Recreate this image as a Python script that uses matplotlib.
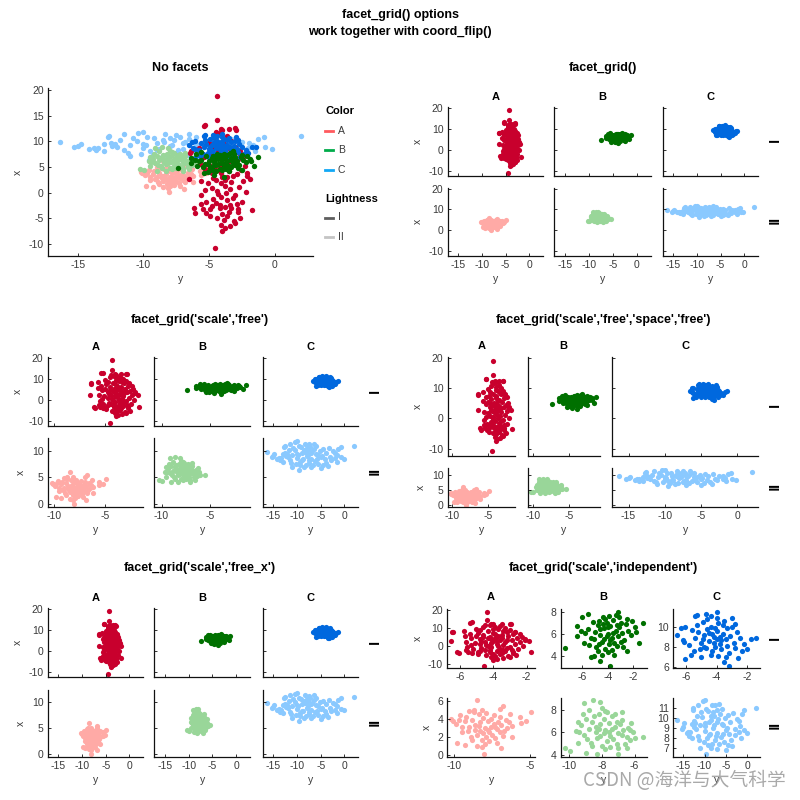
import matplotlib
matplotlib.use("Agg")
import matplotlib.pyplot as plt
from matplotlib.lines import Line2D

plt.rcParams['font.family'] = ['Liberation Sans', 'DejaVu Sans']
plt.rcParams['axes.unicode_minus'] = False

colors = ['A', 'B', 'C']
lightness = ['I', 'II']

# each point: (y value -> horizontal axis after coord_flip, x value -> vertical axis)
pts_A_I = [
    (-4.39, 18.9), (-4.39, 14.2), (-5.28, 13.1), (-3.99, 12.1), (-3.0, 12.5), (-2.93, 12.2), (-6.4, 8.0),
    (-2.68, 8.0), (-2.3, 5.1), (-2.12, 3.2), (-1.87, 2.6), (-2.2, 0.1), (-5.58, -0.5), (-5.63, -2.2),
    (-5.5, -3.3), (-6.06, -4.0), (-5.25, -4.0), (-4.9, -4.5), (-2.63, -5.0), (-2.83, -3.2), (-1.74, -3.4),
    (-3.99, -7.6), (-4.57, -10.9), (-4.8, -2.6), (-6.44, 7.8), (-6.5, 2.6), (-6.14, -3.1), (-5.4, 12.9),
    (-5.74, 8.6), (-4.1, 12.4), (-3.5, 12.4), (-2.7, 7.8), (-2.4, 6.9), (-2.1, 3.8),
    (-4.0, 3.0), (-4.2, 5.1), (-3.8, 1.2), (-4.5, 2.4), (-3.5, 4.2), (-4.1, -0.8), (-4.6, 6.3), (-3.3, 2.0),
    (-4.3, 8.1), (-3.9, 6.8), (-4.8, 3.9), (-3.6, -1.5), (-5.1, 1.8), (-3.1, 5.5), (-4.4, 0.3), (-3.7, 9.2),
    (-4.9, 7.5), (-3.4, -2.4), (-4.2, -3.1), (-5.3, 4.6), (-2.9, 3.6), (-3.2, 7.9), (-4.7, -1.2), (-3.9, 10.3),
    (-5.0, 9.6), (-2.7, 1.0), (-4.0, -4.2), (-3.5, -3.8), (-4.6, 10.8), (-3.3, 10.0), (-5.4, 6.9), (-3.0, -0.4),
    (-4.3, 4.4), (-3.6, 3.1), (-4.8, 0.9), (-3.8, -2.8), (-5.2, -1.9), (-2.8, 6.6), (-4.1, 1.9), (-3.4, 0.6),
    (-4.5, -2.0), (-3.7, 5.8), (-4.0, 7.4), (-5.0, 5.3), (-2.6, 4.4), (-3.2, -1.0), (-4.7, 2.9), (-3.9, -5.3),
    (-3.6, -4.6), (-4.4, -5.0), (-3.1, -5.6), (-4.2, 11.6), (-3.6, 11.0), (-5.6, 2.2), (-2.5, -1.8), (-4.9, -3.3),
    (-3.0, 8.9), (-4.0, 9.5), (-3.3, -3.0), (-4.6, 4.8), (-3.8, 2.5), (-4.3, -0.2), (-3.5, 6.1), (-2.9, -2.2),
    (-5.3, 0.4), (-4.1, 3.8), (-3.7, 0.0), (-4.8, 8.7), (-3.2, 3.3), (-2.4, 2.3), (-5.7, 5.6), (-4.5, 11.9),
    (-3.4, 8.4), (-4.2, -2.5), (-3.9, 4.7), (-2.8, -3.9), (-3.0, -6.0), (-4.1, -6.3), (-3.4, -6.6), (-3.8, -7.0),
]
pts_B_I = [
    (-7.4, 4.7), (-1.26, 7.0), (-3.87, 3.1), (-4.6, 3.5), (-5.36, 3.9), (-5.6, 7.85), (-6.0, 7.5), (-6.4, 6.7),
    (-6.4, 5.8), (-1.56, 5.2), (-3.2, 8.0), (-5.9, 5.2), (-1.9, 6.6), (-2.1, 7.2), (-2.5, 4.4), (-5.1, 4.0),
    (-4.0, 6.0), (-4.3, 6.5), (-3.7, 5.6), (-4.6, 5.9), (-3.4, 6.3), (-4.1, 7.0), (-3.9, 5.1), (-4.8, 6.8),
    (-3.2, 5.8), (-4.5, 5.3), (-3.6, 7.3), (-5.0, 6.2), (-2.9, 6.1), (-4.2, 4.6), (-3.8, 6.7), (-5.3, 5.6),
    (-2.7, 5.4), (-4.4, 7.5), (-3.3, 4.9), (-4.9, 4.8), (-3.0, 7.0), (-5.6, 6.4), (-2.4, 6.3), (-4.7, 7.2),
    (-3.5, 5.2), (-4.0, 4.3), (-3.1, 6.6), (-5.2, 7.1), (-2.6, 6.9), (-4.3, 5.5), (-3.7, 4.5), (-4.6, 6.4),
    (-3.9, 7.6), (-5.5, 5.0), (-2.2, 5.9), (-4.1, 5.8), (-3.4, 7.7), (-4.8, 4.4), (-2.8, 4.8), (-3.6, 6.1),
    (-4.4, 6.9), (-5.8, 6.1), (-3.0, 5.3), (-4.2, 7.4), (-3.8, 5.4), (-2.5, 7.4), (-5.1, 5.5), (-3.3, 6.8),
    (-4.7, 5.1), (-4.0, 6.6), (-3.5, 4.1), (-1.8, 6.2), (-6.1, 6.3), (-4.5, 4.1), (-3.1, 7.5),
]
pts_C_I = [
    (-6.57, 9.2), (-6.04, 10.0), (-6.04, 6.8), (-5.4, 11.1), (-5.3, 11.2), (-4.7, 11.3), (-4.4, 11.1),
    (-3.5, 6.5), (-3.17, 6.1), (-2.64, 6.9), (-2.36, 7.6), (-2.0, 7.75), (-2.98, 10.9), (-6.2, 8.7),
    (-6.1, 8.5), (-1.75, 8.8), (-1.43, 8.9), (-4.0, 11.5), (-2.8, 10.3), (-5.7, 7.2), (-5.0, 7.0),
    (-4.2, 9.0), (-4.0, 9.6), (-4.5, 8.6), (-3.8, 8.3), (-4.4, 10.0), (-3.6, 9.3), (-4.8, 9.2), (-4.1, 8.0),
    (-3.9, 10.4), (-5.0, 8.4), (-3.4, 8.8), (-4.6, 9.8), (-3.3, 9.9), (-5.2, 9.5), (-4.3, 7.6), (-3.7, 7.8),
    (-4.9, 10.5), (-3.1, 9.1), (-4.0, 10.9), (-5.4, 8.9), (-3.5, 10.6), (-4.7, 7.9), (-2.9, 8.4), (-4.2, 8.4),
    (-3.8, 9.0), (-5.1, 7.8), (-4.5, 9.4), (-3.2, 7.4), (-4.1, 9.9), (-5.6, 9.7), (-2.7, 9.5), (-4.8, 8.0),
    (-3.6, 10.2), (-4.4, 7.2), (-3.0, 10.0), (-5.3, 10.2), (-3.9, 7.1), (-4.6, 10.8), (-2.5, 8.9), (-5.8, 8.2),
    (-3.4, 7.0), (-4.3, 9.3), (-3.7, 8.7), (-4.9, 8.8), (-2.8, 7.9), (-5.5, 7.6), (-4.0, 8.8), (-3.3, 8.1),
    (-2.2, 8.3), (-6.3, 9.9),
]
pts_A_II = [
    (-10.2, 4.0), (-10.1, 3.8), (-9.8, 1.3), (-9.3, 1.1), (-8.5, 6.05), (-8.7, 5.0), (-8.04, 0.07), (-8.16, 0.8),
    (-6.9, 0.7), (-6.76, 5.4), (-6.95, 5.1), (-5.67, 4.2), (-5.6, 3.5), (-5.27, 3.75), (-4.93, 4.7), (-6.2, 2.0),
    (-6.3, 4.5), (-9.9, 3.4), (-9.5, 2.5), (-9.6, 4.4),
    (-8.0, 3.0), (-8.3, 3.6), (-7.7, 2.5), (-8.6, 2.8), (-7.4, 3.4), (-8.1, 4.1), (-7.9, 2.0), (-8.8, 3.9),
    (-7.2, 2.9), (-8.5, 2.2), (-7.6, 4.0), (-9.0, 3.1), (-6.9, 3.3), (-8.2, 1.6), (-7.8, 3.8), (-9.3, 3.7),
    (-6.7, 2.6), (-8.4, 4.5), (-7.3, 1.9), (-8.9, 2.0), (-7.0, 4.2), (-9.1, 2.6), (-6.5, 3.0), (-8.7, 4.7),
    (-7.5, 2.2), (-8.0, 1.2), (-7.1, 3.6), (-9.2, 4.2), (-6.6, 3.9), (-8.3, 2.6), (-7.7, 1.5), (-8.6, 3.3),
    (-7.9, 4.6), (-9.5, 3.1), (-6.2, 3.2), (-8.1, 2.4), (-7.4, 4.4), (-8.8, 1.6), (-6.8, 2.1), (-7.6, 3.1),
    (-8.4, 3.2), (-9.7, 3.9), (-7.2, 1.3), (-8.2, 5.0), (-7.0, 2.5), (-8.5, 1.0), (-6.4, 3.6), (-7.8, 2.8),
    (-9.0, 4.9), (-7.3, 3.1),
]
pts_B_II = [
    (-10.3, 4.6), (-9.94, 4.4), (-8.56, 8.8), (-8.1, 8.7), (-9.14, 8.6), (-7.8, 7.9), (-7.0, 4.1), (-9.0, 4.2),
    (-5.5, 5.55), (-6.0, 5.5), (-6.3, 6.2), (-9.5, 5.1), (-9.6, 6.1), (-6.8, 7.8), (-9.2, 7.6), (-6.5, 4.6),
    (-8.3, 4.1),
    (-7.8, 6.2), (-8.1, 6.7), (-7.5, 5.7), (-8.4, 6.0), (-7.2, 6.5), (-7.9, 7.2), (-7.7, 5.2), (-8.6, 6.9),
    (-7.0, 5.9), (-8.3, 5.5), (-7.4, 7.4), (-8.8, 6.3), (-6.7, 6.2), (-8.0, 4.8), (-7.6, 6.8), (-9.1, 5.8),
    (-6.5, 5.6), (-8.2, 7.6), (-7.1, 5.0), (-8.7, 5.1), (-6.8, 7.1), (-9.3, 6.6), (-6.3, 5.3), (-8.5, 7.4),
    (-7.3, 5.4), (-7.8, 4.5), (-6.9, 6.7), (-9.0, 7.2), (-6.4, 6.4), (-8.1, 5.7), (-7.5, 4.7), (-8.4, 6.5),
    (-7.7, 7.8), (-9.4, 6.0), (-6.1, 6.0), (-7.9, 5.9), (-7.2, 7.6), (-8.6, 4.8), (-6.6, 5.0), (-7.4, 6.3),
    (-8.2, 6.3), (-9.5, 6.9), (-7.0, 4.6), (-8.0, 8.1), (-6.8, 5.8), (-8.9, 5.4), (-6.2, 6.8), (-7.6, 6.0),
    (-8.8, 8.0), (-7.1, 6.9),
]
pts_C_II = [
    (-16.36, 9.87), (-15.0, 9.1), (-14.8, 9.5), (-14.17, 8.5), (-13.8, 8.65), (-13.6, 8.2), (-13.0, 8.0),
    (-12.7, 10.8), (-12.6, 11.0), (-12.4, 9.1), (-11.46, 11.35), (-10.45, 11.7), (-11.06, 7.05), (-8.36, 11.35),
    (-7.5, 11.3), (-6.54, 11.4), (-1.97, 9.7), (-1.67, 9.2), (-1.3, 10.4), (-0.83, 10.8), (-0.73, 8.8),
    (-0.2, 8.5), (2.0, 11.0), (-1.54, 8.0), (-10.0, 11.8), (-9.6, 6.4), (-15.3, 8.9), (-13.5, 8.6),
    (-12.2, 9.5), (-5.0, 6.8), (-3.5, 7.2), (-7.0, 6.9),
    (-8.0, 9.0), (-9.0, 9.6), (-7.0, 8.5), (-10.0, 8.7), (-6.0, 9.4), (-8.5, 10.2), (-7.5, 7.8), (-11.0, 9.3),
    (-5.0, 8.8), (-9.5, 8.0), (-6.5, 10.4), (-12.0, 8.9), (-4.0, 9.6), (-8.2, 7.4), (-7.2, 10.8), (-10.5, 10.1),
    (-5.5, 7.6), (-9.2, 10.7), (-3.0, 8.9), (-11.5, 8.2), (-6.8, 9.9), (-8.8, 8.4), (-4.5, 10.3), (-10.2, 7.6),
    (-7.8, 9.3), (-2.5, 9.9), (-9.8, 9.2), (-6.2, 8.1), (-12.5, 9.7), (-5.2, 10.0), (-8.6, 7.0), (-3.8, 7.8),
    (-10.8, 10.6), (-7.4, 8.2), (-4.8, 9.0), (-9.3, 7.3), (-6.0, 10.9), (-11.8, 10.2), (-2.8, 8.3), (-8.0, 10.6),
    (-5.8, 8.4), (-10.0, 9.5), (-7.0, 9.6), (-3.3, 10.5), (-9.0, 8.3), (-6.6, 7.4), (-4.2, 8.4), (-11.2, 7.8),
    (-8.4, 9.8), (-5.6, 9.3), (-13.0, 9.4), (-2.0, 8.6), (-7.7, 10.2), (-9.7, 10.9), (-4.6, 7.3),
]

data = {('A', 'I'): pts_A_I, ('B', 'I'): pts_B_I, ('C', 'I'): pts_C_I,
        ('A', 'II'): pts_A_II, ('B', 'II'): pts_B_II, ('C', 'II'): pts_C_II}

point_colors = {('A', 'I'): '#C8002D', ('B', 'I'): '#007000', ('C', 'I'): '#0068DE',
                ('A', 'II'): '#FFAAA6', ('B', 'II'): '#99D699', ('C', 'II'): '#8AC9FF'}
legend_color = {'A': '#FF5A5E', 'B': '#00AB4A', 'C': '#12A8F5'}
legend_light = {'I': '#5E5E5E', 'II': '#C4C4C4'}
draw_order = [('A', 'II'), ('C', 'II'), ('B', 'II'), ('A', 'I'), ('C', 'I'), ('B', 'I')]

W = H = 800
fig = plt.figure(figsize=(8, 8), dpi=100)
TXT = '#3a3a3a'
TICK_FS = 7.5
LAB_FS = 7.5


def hv(key):
    pts = data[key]
    return [p[0] for p in pts], [p[1] for p in pts]


def lim(vals):
    lo, hi = min(vals), max(vals)
    r = hi - lo
    return lo - 0.05 * r, hi + 0.05 * r


def add_ax(x0, y0, x1, y1):
    ax = fig.add_axes([x0 / W, 1 - y1 / H, (x1 - x0) / W, (y1 - y0) / H])
    for s in ['top', 'right']:
        ax.spines[s].set_visible(False)
    for s in ['left', 'bottom']:
        ax.spines[s].set_linewidth(0.9)
        ax.spines[s].set_color('#111111')
    ax.tick_params(direction='in', length=2.5, width=0.6, labelsize=TICK_FS, color='#111111',
                   labelcolor=TXT, pad=3)
    ax.patch.set_alpha(0)
    return ax


def ftext(x, y, s, **kw):
    fig.text(x / W, 1 - y / H, s, ha='center', va='center', **kw)


# main title
ftext(400, 15, 'facet_grid() options', weight='bold', size=9)
ftext(400, 32, 'work together with coord_flip()', weight='bold', size=9)

# ---------- No facets ----------
ax = add_ax(48, 88, 313, 256)
allh, allv = [], []
for key in draw_order:
    h, v = hv(key)
    allh += h
    allv += v
    ax.scatter(h, v, s=15, c=point_colors[key], linewidths=0)
ax.set_xlim(lim(allh))
ax.set_ylim(lim(allv))
ax.set_xticks([-15, -10, -5, 0])
ax.set_yticks([-10, -5, 0, 5, 10, 15, 20])
ax.set_xlabel('y', size=LAB_FS, color=TXT, labelpad=3)
ax.set_ylabel('x', size=LAB_FS, color=TXT, labelpad=4)
ftext(180, 68, 'No facets', weight='bold', size=9)

# legend
fig.text(325 / W, 1 - 111 / H, 'Color', ha='left', va='center', weight='bold', size=8)
for i, c in enumerate(colors):
    yy = 1 - (131 + 19.3 * i) / H
    fig.add_artist(Line2D([325 / W, 333 / W], [yy, yy], color=legend_color[c], lw=2))
    fig.text(338 / W, yy, c, ha='left', va='center', size=7.5, color=TXT)
fig.text(325 / W, 1 - 198.5 / H, 'Lightness', ha='left', va='center', weight='bold', size=8)
for i, l in enumerate(lightness):
    yy = 1 - (217.5 + 19.3 * i) / H
    fig.add_artist(Line2D([325 / W, 333 / W], [yy, yy], color=legend_light[l], lw=2))
    fig.text(338 / W, yy, l, ha='left', va='center', size=7.5, color=TXT)


def draw_facets(title, title_x, title_y, col_y, cols_px, rows_px, xlim_f, ylim_f, xt_f, yt_f,
                independent=False, row_label_x=771):
    ftext(title_x, title_y, title, weight='bold', size=9)
    for ri, L in enumerate(lightness):
        for ci, C in enumerate(colors):
            x0, x1 = cols_px[ci]
            y0, y1 = rows_px[ri]
            ax = add_ax(x0, y0, x1, y1)
            h, v = hv((C, L))
            ax.scatter(h, v, s=14, c=point_colors[(C, L)], linewidths=0)
            ax.set_xlim(xlim_f(C, L))
            ax.set_ylim(ylim_f(C, L))
            ax.set_xticks(xt_f(C, L))
            ax.set_yticks(yt_f(C, L))
            if not independent:
                if ri == 0:
                    ax.tick_params(labelbottom=False)
                if ci > 0:
                    ax.tick_params(labelleft=False)
            if ci == 0:
                ax.set_ylabel('x', size=LAB_FS, color=TXT, labelpad=4)
            if ri == 1:
                ax.set_xlabel('y', size=LAB_FS, color=TXT, labelpad=3)
            if ri == 0:
                ftext((x0 + x1) / 2, col_y, C, weight='bold', size=8)
        ftext(row_label_x, (rows_px[ri][0] + rows_px[ri][1]) / 2, L, weight='heavy', size=10,
              rotation=-90)


def all_h():
    out = []
    for k in data:
        out += hv(k)[0]
    return out


def all_v():
    out = []
    for k in data:
        out += hv(k)[1]
    return out


def col_h(C):
    return hv((C, 'I'))[0] + hv((C, 'II'))[0]


def row_v(L):
    out = []
    for C in colors:
        out += hv((C, L))[1]
    return out


H_ALL = lim(all_h())
V_ALL = lim(all_v())
xt_full = [-15, -10, -5, 0]
yt_row = {'I': [-10, 0, 10, 20], 'II': [0, 5, 10]}
xt_col = {'A': [-10, -5], 'B': [-10, -5], 'C': [-15, -10, -5, 0]}

left_cols = [(47.7, 143.3), (154.3, 250), (262.7, 358.3)]
right_cols = [(447.7, 543), (554, 651), (662.7, 758)]

# ---------- facet_grid() ----------
draw_facets('facet_grid()', 603, 68, 97, right_cols, [(106.7, 176), (187.7, 256)],
            lambda C, L: H_ALL, lambda C, L: V_ALL,
            lambda C, L: xt_full, lambda C, L: [-10, 0, 10, 20])

# ---------- scale free ----------
draw_facets("facet_grid('scale','free')", 200, 320, 346.7, left_cols, [(357.3, 426), (438.3, 506.7)],
            lambda C, L: lim(col_h(C)), lambda C, L: lim(row_v(L)),
            lambda C, L: xt_col[C], lambda C, L: yt_row[L], row_label_x=371)

# ---------- scale free, space free ----------
hl = {C: lim(col_h(C)) for C in colors}
vl = {L: lim(row_v(L)) for L in lightness}
gap = 12.5
tot_w = (758.3 - 447.7) - 2 * gap
wsum = sum(hl[C][1] - hl[C][0] for C in colors)
cols_sf = []
xcur = 447.7
for C in colors:
    w = tot_w * (hl[C][1] - hl[C][0]) / wsum
    cols_sf.append((xcur, xcur + w))
    xcur += w + gap
tot_h = (507 - 356.7) - 12.3
hsum = sum(vl[L][1] - vl[L][0] for L in lightness)
rows_sf = []
ycur = 356.7
for L in lightness:
    hh = tot_h * (vl[L][1] - vl[L][0]) / hsum
    rows_sf.append((ycur, ycur + hh))
    ycur += hh + 12.3
draw_facets("facet_grid('scale','free','space','free')", 603, 320, 346, cols_sf, rows_sf,
            lambda C, L: hl[C], lambda C, L: vl[L],
            lambda C, L: xt_col[C], lambda C, L: yt_row[L])

# ---------- free_x ----------
draw_facets("facet_grid('scale','free_x')", 200, 568, 597.7, left_cols, [(608.3, 677.3), (690, 756.7)],
            lambda C, L: H_ALL, lambda C, L: lim(row_v(L)),
            lambda C, L: xt_full, lambda C, L: yt_row[L], row_label_x=371)

# ---------- independent ----------
xt_ind = {('A', 'I'): [-6, -4, -2], ('B', 'I'): [-6, -4, -2], ('C', 'I'): [-6, -4, -2],
          ('A', 'II'): [-10, -5], ('B', 'II'): [-10, -8, -6], ('C', 'II'): [-15, -10, -5, 0]}
yt_ind = {('A', 'I'): [-10, 0, 10, 20], ('B', 'I'): [4, 6, 8], ('C', 'I'): [6, 8, 10],
          ('A', 'II'): [0, 2, 4, 6], ('B', 'II'): [4, 6, 8], ('C', 'II'): [7, 8, 9, 10, 11]}
draw_facets("facet_grid('scale','independent')", 603, 568, 597,
            [(447.3, 535), (560.7, 646.7), (673.3, 760)], [(609.3, 668.3), (697.7, 756.7)],
            lambda C, L: lim(hv((C, L))[0]), lambda C, L: lim(hv((C, L))[1]),
            lambda C, L: xt_ind[(C, L)], lambda C, L: yt_ind[(C, L)], independent=True)

# watermark
fig.text(583 / W, 1 - 780 / H, 'CSDN @海洋与大气科学', ha='left', va='center', size=13.5,
         color='#9a9a9a', alpha=0.85, family=['Noto Sans CJK SC', 'DejaVu Sans'])

fig.savefig('out.png', dpi=100)
